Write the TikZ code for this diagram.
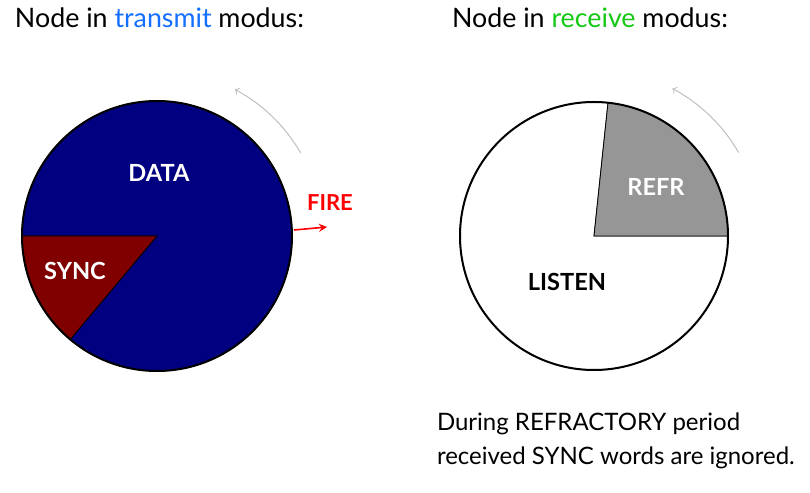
\documentclass[tikz,border=0pt]{standalone}
\usepackage{fontspec}
\setmainfont{Lato}
\usepackage{tikz}
\usetikzlibrary{arrows}

\begin{document}
\begin{tikzpicture}[x=0.5pt, y=0.5pt,
    >=stealth, %
    inner sep=0pt, outer sep=0pt,%
    title/.style={anchor=base west, font=\fontsize{13.4}{16}\selectfont},
    label/.style={font=\fontsize{11.8}{14}\selectfont\bfseries, color=#1},
    sector/.style={fill=#1, draw=black, line width=0.4pt},
    rim/.style={draw=black, line width=1pt},
    turn/.style={draw=black!25, line width=0.5pt, -to},
]
    % Colors
    \definecolor{navy}{RGB}{0,0,128}
    \definecolor{darkred}{RGB}{128,0,0}
    \definecolor{refrgray}{RGB}{150,150,150}
    \definecolor{txblue}{RGB}{20,110,255}
    \definecolor{rxgreen}{RGB}{20,200,20}

    % Frame
    \useasboundingbox (0,0) rectangle (810,493);

    % Titles
    \node[title] (ttx) at (15,465) {Node in \textcolor{txblue}{transmit} modus:};
    \node[title] (trx) at (452,465) {Node in \textcolor{rxgreen}{receive} modus:};

    % Transmitting node
    \coordinate (T) at (157,257);
    \filldraw[sector=navy] (T) -- +(230:135) arc[start angle=230, end angle=540, radius=135] -- cycle;
    \filldraw[sector=darkred] (T) -- +(180:135) arc[start angle=180, end angle=230, radius=135] -- cycle;
    \draw[rim] (T) circle[radius=135];
    \draw[turn] (T) ++(30:166) arc[start angle=30, end angle=62, radius=166];

    \node[label=white] (data) at (159,320) {DATA};
    \node[label=white] (sync) at (75,222) {SYNC};

    % Firing pulse
    \node[label=red, font=\fontsize{11}{13}\selectfont\bfseries] (fire) at (330,290) {FIRE};
    \coordinate (fireA) at (294,263);
    \coordinate (fireB) at (327,266);
    \draw[red, line width=0.8pt, ->] (fireA) -- (fireB);

    % Receiving node
    \coordinate (R) at (594,257);
    \filldraw[sector=white] (R) -- +(84:134) arc[start angle=84, end angle=360, radius=134] -- cycle;
    \filldraw[sector=refrgray] (R) -- +(0:134) arc[start angle=0, end angle=84, radius=134] -- cycle;
    \draw[rim] (R) circle[radius=134];
    \draw[turn] (R) ++(30:167) arc[start angle=30, end angle=62, radius=167];

    \node[label=white] (refr) at (656,306) {REFR};
    \node[label=black] (listen) at (567,211) {LISTEN};

    % Note
    \node[anchor=north west, align=left, font=\fontsize{12}{17}\selectfont] (note) at (437,80)
        {During REFRACTORY period\\received SYNC words are ignored.};
\end{tikzpicture}
\end{document}
